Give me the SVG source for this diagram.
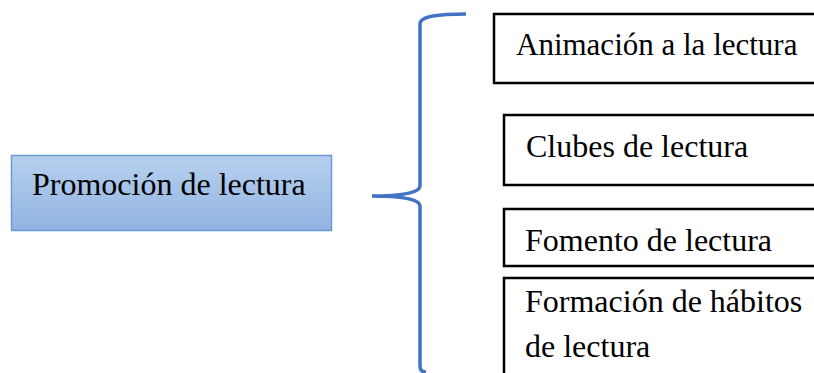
<svg xmlns="http://www.w3.org/2000/svg" width="814" height="373" viewBox="0 0 814 373">
<defs>
<linearGradient id="g" x1="0" y1="0" x2="0" y2="1">
<stop offset="0" stop-color="#b7d0ee"/>
<stop offset="1" stop-color="#91b4e2"/>
</linearGradient>
</defs>
<style>
.t{font-family:"Times New Roman","Liberation Serif",Tinos,serif;font-size:32px;fill:#000}
.b{fill:#fff;stroke:#000;stroke-width:2.5}
</style>
<rect width="814" height="373" fill="#fff"/>
<g id="promocion">
<rect x="11.5" y="155.5" width="320" height="75" fill="url(#g)" stroke="#6a9bd6" stroke-width="1.5"/>
<text class="t" x="32" y="195">Promoción de lectura</text>
</g>
<g id="connectors">
<path d="M466,14 C440,14 420,16 420,24 L420,186 C420,193 400,196 372,196 C400,196 420,199 420,206 L420,366 C420,370 422,372 426,372" fill="none" stroke="#4472c4" stroke-width="3.5"/>
</g>
<g id="animacion">
<rect class="b" x="494" y="14" width="340" height="69"/>
<text class="t" x="516" y="55" style="font-size:31px">Animación a la lectura</text>
</g>
<g id="clubes">
<rect class="b" x="504" y="115" width="330" height="70"/>
<text class="t" x="526" y="157">Clubes de lectura</text>
</g>
<g id="fomento">
<rect class="b" x="504" y="209" width="330" height="57"/>
<text class="t" x="525" y="251">Fomento de lectura</text>
</g>
<g id="formacion">
<rect class="b" x="504" y="278" width="330" height="120"/>
<text class="t" x="525" y="312">Formación de hábitos</text>
<text class="t" x="525" y="357">de lectura</text>
</g>
</svg>
